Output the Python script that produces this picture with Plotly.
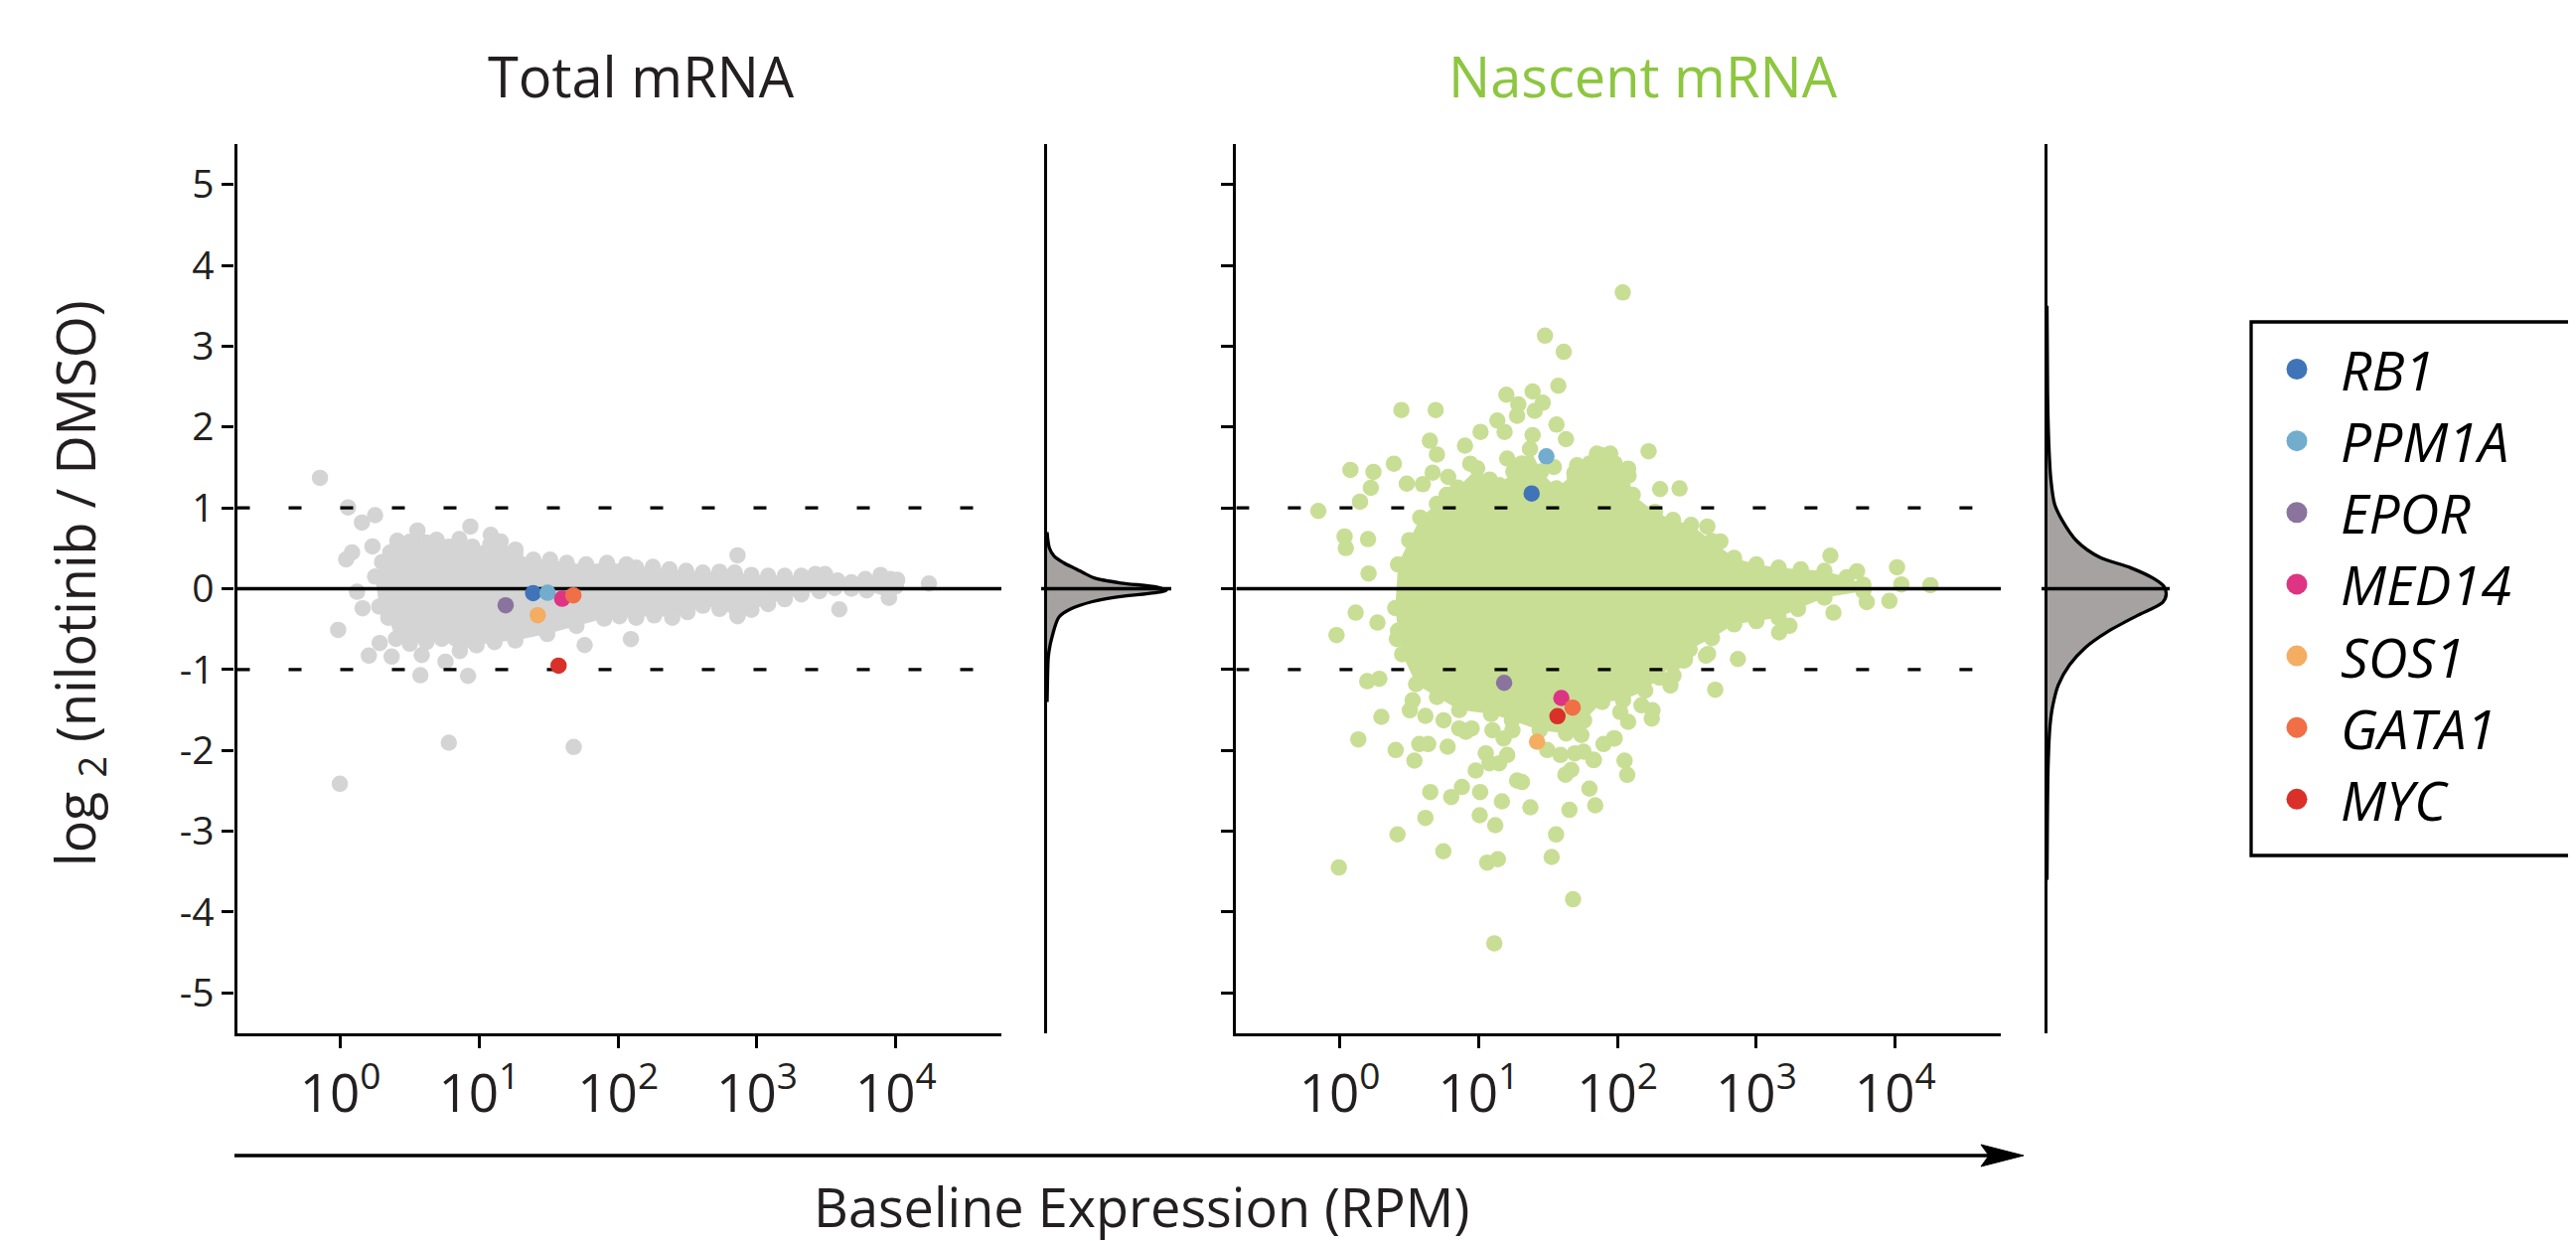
import plotly.graph_objects as go

W, H = 2593, 1249
OFF = 8  # default page margin of the html body
FW, FH = W - OFF, H - OFF

# ---------------- data ----------------
genes = ["RB1", "PPM1A", "EPOR", "MED14", "SOS1", "GATA1", "MYC"]
gene_colors = ["#3f74b8", "#72adce", "#8a749e", "#de3484", "#f5ad62", "#f06f46", "#d93029"]

# highlighted genes: log10(baseline RPM) and log2 fold change
total_gene_log10_rpm = [1.388, 1.492, 1.190, 1.597, 1.421, 1.678, 1.571]
total_gene_lfc = [-0.054, -0.050, -0.205, -0.124, -0.328, -0.082, -0.951]
nascent_gene_log10_rpm = [1.382, 1.488, 1.184, 1.596, 1.421, 1.677, 1.568]
nascent_gene_lfc = [1.178, 1.637, -1.164, -1.352, -1.893, -1.471, -1.577]

# Total mRNA: outline of the dense point cloud (dot centres along the edge)
total_core_log10_rpm = [0.25, 0.30, 0.36, 0.41, 0.50, 0.555, 0.62, 0.70, 0.78, 0.86, 0.95, 1.08, 1.15, 1.26,
                        1.39, 1.51, 1.63, 1.77, 1.92, 2.06, 2.13, 2.25, 2.37, 2.49, 2.61, 2.73, 2.84, 2.96,
                        3.08, 3.20, 3.32, 3.42, 3.49, 3.58, 3.68, 3.78, 3.89, 3.96, 4.01,
                        4.00, 3.95, 3.79, 3.68, 3.56, 3.45, 3.32, 3.20, 3.08, 2.96, 2.86, 2.73, 2.61, 2.50,
                        2.39, 2.26, 2.13, 2.01, 1.90, 1.70, 1.49, 1.26, 1.11, 0.98, 0.86, 0.73, 0.62, 0.50,
                        0.40, 0.345, 0.28]
total_core_lfc = [0.15, 0.33, 0.45, 0.52, 0.58, 0.62, 0.57, 0.56, 0.52, 0.55, 0.52, 0.55, 0.50, 0.44,
                  0.36, 0.36, 0.32, 0.30, 0.32, 0.30, 0.26, 0.27, 0.24, 0.22, 0.20, 0.21, 0.20, 0.17,
                  0.16, 0.16, 0.16, 0.18, 0.18, 0.10, 0.08, 0.12, 0.17, 0.12, 0.11,
                  0.03, -0.11, -0.02, 0.00, 0.01, -0.03, -0.07, -0.13, -0.19, -0.26, -0.34, -0.25, -0.21, -0.29,
                  -0.36, -0.33, -0.36, -0.34, -0.37, -0.46, -0.56, -0.64, -0.66, -0.70, -0.77, -0.62, -0.66, -0.68,
                  -0.62, -0.36, -0.22]
# Total mRNA: isolated points
total_pts_log10_rpm = [-0.147, 0.055, 0.155, 0.250, -0.016, -0.004, 0.781, 1.680, 0.576, 0.919, 0.757, 0.586,
                       0.205, 0.369, 0.283, 1.759, 2.092, 0.120, 0.160, 0.041, 0.084, 0.231, 0.410, 0.555,
                       0.936, 1.083, 1.154, 0.857, 1.261, 0.693, 2.860, 3.593, 4.238, 3.950, 2.860]
total_pts_lfc = [1.371, 1.006, 0.818, 0.910, -0.509, -2.413, -1.905, -1.958, -1.070, -1.078, -0.902, -0.820,
                 -0.828, -0.840, -0.672, -0.697, -0.623, -0.038, -0.242, 0.363, 0.450, 0.523, 0.593, 0.720,
                 0.769, 0.667, 0.585, 0.613, 0.483, 0.605, 0.413, -0.255, 0.065, -0.112, -0.320]

# Nascent mRNA: outline of the dense point cloud
nascent_core_log10_rpm = [0.42, 0.50, 0.58, 0.70, 0.77, 0.85, 0.99, 1.08, 1.15, 1.25, 1.31, 1.37, 1.45, 1.56,
                          1.69, 1.80, 1.89, 1.98, 2.08, 2.11, 2.27, 2.40, 2.53, 2.68, 2.84, 3.00, 3.16, 3.32,
                          3.49, 3.65, 3.77,
                          3.77, 3.49, 3.30, 3.16, 3.00, 2.84, 2.68, 2.52, 2.40, 2.30, 2.20, 2.04, 1.89, 1.76,
                          1.63, 1.44, 1.24, 1.09, 0.86, 0.70, 0.55, 0.45, 0.42, 0.40]
nascent_core_lfc = [0.30, 0.60, 0.88, 1.05, 1.16, 1.25, 1.49, 1.35, 1.28, 1.45, 1.55, 1.73, 1.45, 1.24,
                    1.43, 1.55, 1.65, 1.55, 1.40, 1.16, 0.95, 0.85, 0.79, 0.59, 0.38, 0.30, 0.26, 0.24,
                    0.22, 0.14, 0.05,
                    -0.03, -0.11, -0.25, -0.36, -0.40, -0.44, -0.61, -0.75, -0.93, -1.10, -1.26, -1.38, -1.40, -1.63,
                    -1.79, -1.75, -1.63, -1.55, -1.50, -1.34, -1.18, -0.81, -0.52, -0.24]
# Nascent mRNA: isolated points
nascent_pts_log10_rpm = [2.038, 1.478, 1.613, 1.574, 1.389, 1.200, 1.286, 1.462, 1.404, 1.277, 1.135, 1.187,
                         1.561, 1.629, 1.389, 1.014, 0.902, 0.649, 0.700, 0.444, 0.691, 0.390, 0.077, 0.243,
                         0.224, 0.146, -0.154, 0.669, 0.483, 2.224, 2.447, 2.307, 1.206, 1.542, 1.709, 1.852,
                         1.948, 2.077, 1.692, 0.940, 0.781, 0.598, 2.647, 2.741, 3.533, 4.013, 4.253, 4.044,
                         3.958, 3.795, 3.555, 3.725, 3.164, 3.238, 2.867, 2.652, -0.023, 0.115, 0.208, 0.044,
                         0.035, 0.204,
                         2.704, 2.486, 2.247, 2.070, 2.051, 1.974, 1.900, 1.830, 1.798, 1.840, 1.654, 1.625,
                         1.667, 1.558, 1.526, 1.680, 1.113, 1.139, 1.062, 0.746, 0.416, -0.006, 0.617, 1.008,
                         1.120, 1.373, 1.168, 0.652, 0.803, 0.880, 1.011, 1.277, 1.312, 0.979, 0.538, 0.403,
                         0.134, 0.300, 0.573, 0.637, 0.777, 0.617, 0.505, 0.525, 0.198, 0.285, 0.272, 0.412,
                         1.052, 1.206, 1.078, 1.148, 1.494, 1.590, 1.693, 1.756, 1.827, 0.950, 0.908, 1.100,
                         1.180, 1.244, 0.748, 0.860, 1.740, 1.693, 2.077, 2.020, 1.980, 2.173, 2.252, 2.381,
                         2.403, 2.637, 2.476]
nascent_pts_lfc = [3.665, 3.130, 2.930, 2.510, 2.440, 2.400, 2.280, 2.300, 2.200, 2.140, 2.080, 1.940,
                   2.030, 1.850, 1.900, 1.940, 1.770, 1.830, 1.660, 2.210, 2.210, 1.547, 1.470, 1.445,
                   1.248, 1.076, 0.962, 1.436, 1.300, 1.700, 1.240, 1.232, 1.610, 1.506, 1.527, 1.670,
                   1.670, 1.485, 1.383, 1.547, 1.383, 1.293, 0.769, 0.585, 0.409, 0.265, 0.044, 0.053,
                   -0.152, -0.165, -0.296, 0.216, -0.541, -0.459, -0.869, -0.807, -0.574, -0.296, 0.188, 0.503,
                   0.646, 0.613,
                   -1.250, -0.877, -1.606, -2.302, -2.126, -1.852, -1.921, -2.118, -2.474, -2.679, -2.736, -2.300,
                   -2.240, -3.040, -3.318, -3.842, -4.387, -3.346, -3.388, -3.248, -3.039, -3.449, -2.835, -2.802,
                   -2.925, -2.704, -2.630, -2.515, -2.577, -2.453, -2.515, -2.372, -2.392, -2.249, -2.126, -1.995,
                   -1.864, -1.586, -1.921, -1.921, -1.954, -1.573, -1.504, -1.381, -1.144, -1.114, -0.419, -0.623,
                   -2.036, -2.057, -2.159, -2.159, -1.995, -2.057, -2.036, -2.016, -2.118, -1.729, -1.770, -1.750,
                   -1.852, -1.750, -1.627, -1.729, -1.810, -1.709, -1.647, -1.525, -1.852, -1.442, -1.504, -1.197,
                   -1.074, -0.828, -0.889]

# marginal densities (relative, peak = 1)
total_density_lfc = [0.70, 0.50, 0.40, 0.32, 0.26, 0.20, 0.13, 0.07, 0.02, -0.02, -0.06, -0.10, -0.16,
                     -0.25, -0.35, -0.45, -0.55, -0.70, -0.85, -1.10, -1.40]
total_density = [0.0, 0.02, 0.06, 0.14, 0.22, 0.30, 0.40, 0.62, 0.92, 1.0, 0.85, 0.60, 0.38,
                 0.20, 0.10, 0.07, 0.05, 0.025, 0.01, 0.004, 0.0]
nascent_density_lfc = [3.50, 2.42, 1.80, 1.36, 1.05, 0.85, 0.59, 0.39, 0.26, 0.13, 0.03, -0.07, -0.17,
                       -0.33, -0.53, -0.73, -0.94, -1.19, -1.45, -1.70, -2.16, -2.90, -3.60]
nascent_density = [0.0, 0.005, 0.015, 0.032, 0.063, 0.126, 0.25, 0.44, 0.70, 0.89, 0.98, 1.0, 0.97,
                   0.76, 0.51, 0.32, 0.19, 0.095, 0.048, 0.025, 0.01, 0.003, 0.0]

y_ticks = [5, 4, 3, 2, 1, 0, -1, -2, -3, -4, -5]
y_tick_labels = ["5", "4", "3", "2", "1", "0", "-1", "-2", "-3", "-4", "-5"]
x_ticks = [1, 10, 100, 1000, 10000]
x_tick_labels = ["10<sup>0</sup>", "10<sup>1</sup>", "10<sup>2</sup>", "10<sup>3</sup>", "10<sup>4</sup>"]
ref_levels = [1, -1]

# ---------------- styling / layout ----------------
GRAY = "#d4d4d4"
GREEN = "#c9de95"
TITLE_GREEN = "#8dc63f"
TXT = "#231f20"
FONT = "Open Sans"
DOT = 16.5
LW = 3.3
X_RANGE = [-0.745, 4.76]
Y_RANGE = [-5.5, 5.5]


def px(x):
    return (x - OFF) / FW


def py(y):
    return 1 - (y - OFF) / FH


def to_rpm(vals):
    return [10 ** v for v in vals]


fig = go.Figure()


def add_panel(xa, ya, core_x, core_y, pts_x, pts_y, color, gx, gy):
    fig.add_trace(go.Scatter(x=to_rpm(core_x), y=core_y, mode="lines+markers", fill="toself",
                             fillcolor=color, line=dict(width=0, color=color),
                             marker=dict(size=DOT, color=color), xaxis=xa, yaxis=ya,
                             showlegend=False, hoverinfo="skip"))
    fig.add_trace(go.Scatter(x=to_rpm(pts_x), y=pts_y, mode="markers",
                             marker=dict(size=DOT, color=color), xaxis=xa, yaxis=ya,
                             showlegend=False, hoverinfo="skip"))
    xr = [10 ** X_RANGE[0], 10 ** X_RANGE[1]]
    for lv in ref_levels:
        fig.add_trace(go.Scatter(x=xr, y=[lv, lv], mode="lines",
                                 line=dict(color="black", width=LW, dash="13px,39px"),
                                 xaxis=xa, yaxis=ya, showlegend=False, hoverinfo="skip"))
    fig.add_trace(go.Scatter(x=xr, y=[0, 0], mode="lines", line=dict(color="black", width=LW),
                             xaxis=xa, yaxis=ya, showlegend=False, hoverinfo="skip"))
    for g, c, x, y in zip(genes, gene_colors, gx, gy):
        fig.add_trace(go.Scatter(x=[10 ** x], y=[y], mode="markers", name=g,
                                 marker=dict(size=DOT, color=c), xaxis=xa, yaxis=ya,
                                 showlegend=False))


add_panel("x", "y", total_core_log10_rpm, total_core_lfc, total_pts_log10_rpm, total_pts_lfc, GRAY,
          total_gene_log10_rpm, total_gene_lfc)
add_panel("x3", "y3", nascent_core_log10_rpm, nascent_core_lfc, nascent_pts_log10_rpm, nascent_pts_lfc,
          GREEN, nascent_gene_log10_rpm, nascent_gene_lfc)

for xa, ya, d, yy in [("x2", "y2", total_density, total_density_lfc),
                      ("x4", "y4", nascent_density, nascent_density_lfc)]:
    fig.add_trace(go.Scatter(x=d, y=yy, mode="lines", fill="tozerox", fillcolor="#a6a2a2",
                             line=dict(color="black", width=LW, shape="spline", smoothing=0.8),
                             xaxis=xa, yaxis=ya, showlegend=False, hoverinfo="skip"))

# manual legend
fig.add_trace(go.Scatter(x=[46] * len(genes), y=list(range(len(genes))), mode="markers",
                         marker=dict(size=21, color=gene_colors), xaxis="x5", yaxis="y5",
                         showlegend=False, hoverinfo="skip"))

main_x = dict(type="log", range=X_RANGE, showline=True, linecolor="black", linewidth=LW,
              ticks="outside", ticklen=12, tickwidth=LW, tickcolor="black", showgrid=False,
              zeroline=False, tickvals=x_ticks, ticktext=x_tick_labels,
              tickfont=dict(family=FONT, size=53, color=TXT))
main_y = dict(range=Y_RANGE, showline=True, linecolor="black", linewidth=LW, ticks="outside",
              ticklen=12, tickwidth=LW, tickcolor="black", showgrid=False, zeroline=False,
              tickvals=y_ticks, ticktext=y_tick_labels,
              tickfont=dict(family=FONT, size=39, color=TXT), domain=[py(1040), py(145)])
marg_x = dict(range=[0, 136 / 120], visible=False, showgrid=False, zeroline=False)
marg_y = dict(range=Y_RANGE, showline=True, linecolor="black", linewidth=LW, ticks="",
              showticklabels=False, showgrid=False, zeroline=False, domain=[py(1040), py(145)])

fig.update_layout(
    width=FW, height=FH, margin=dict(l=0, r=0, t=0, b=0),
    paper_bgcolor="white", plot_bgcolor="rgba(0,0,0,0)", showlegend=False,
    xaxis=dict(main_x, domain=[px(238.5), px(1008)], anchor="y"),
    yaxis=dict(main_y, anchor="x"),
    xaxis2=dict(marg_x, domain=[px(1054), px(1190)], anchor="y2"),
    yaxis2=dict(marg_y, anchor="x2"),
    xaxis3=dict(main_x, domain=[px(1244.4), px(2014)], anchor="y3"),
    yaxis3=dict(main_y, anchor="x3", showticklabels=False),
    xaxis4=dict(marg_x, domain=[px(2060.5), px(2196.5)], anchor="y4"),
    yaxis4=dict(marg_y, anchor="x4"),
    xaxis5=dict(range=[0, W - 2266], domain=[px(2266), 1.0], visible=False, anchor="y5"),
    yaxis5=dict(range=[6.786, -0.659], domain=[py(861), py(324)], visible=False, anchor="x5"),
)

shapes = [
    # zero lines across the marginal densities
    dict(type="line", xref="paper", yref="y2", x0=px(1048), x1=px(1179), y0=0, y1=0,
         line=dict(color="black", width=LW)),
    dict(type="line", xref="paper", yref="y4", x0=px(2055), x1=px(2184), y0=0, y1=0,
         line=dict(color="black", width=LW)),
    # legend box
    dict(type="rect", xref="paper", yref="paper", x0=px(2266), x1=px(2610), y0=py(861), y1=py(324),
         line=dict(color="black", width=LW)),
    # bottom arrow
    dict(type="line", xref="paper", yref="paper", x0=px(236), x1=px(2004), y0=py(1163), y1=py(1163),
         line=dict(color="black", width=LW)),
    dict(type="path", xref="paper", yref="paper",
         path=f"M {px(1994)} {py(1152)} L {px(2037)} {py(1163)} L {px(1994)} {py(1174)} "
              f"L {px(2002)} {py(1163)} Z",
         fillcolor="black", line=dict(color="black", width=1)),
]
fig.update_layout(shapes=shapes)

ann = [
    dict(text="Total mRNA", x=px(645), y=py(76), xref="paper", yref="paper", showarrow=False,
         xanchor="center", yanchor="middle", font=dict(family=FONT, size=56, color=TXT)),
    dict(text="Nascent mRNA", x=px(1654), y=py(76), xref="paper", yref="paper", showarrow=False,
         xanchor="center", yanchor="middle", font=dict(family=FONT, size=56, color=TITLE_GREEN)),
    dict(text="log <sub>2</sub> (nilotinib / DMSO)", x=px(78), y=py(587), xref="paper", yref="paper",
         showarrow=False, textangle=-90, xanchor="center", yanchor="middle",
         font=dict(family=FONT, size=54, color=TXT)),
    dict(text="Baseline Expression (RPM)", x=px(1149), y=py(1214), xref="paper", yref="paper",
         showarrow=False, xanchor="center", yanchor="middle", font=dict(family=FONT, size=54, color=TXT)),
]
for i, g in enumerate(genes):
    ann.append(dict(text=g, x=88, y=i, xref="x5", yref="y5", showarrow=False, xanchor="left",
                    yanchor="middle", font=dict(family=FONT, size=55, color="black", style="italic")))
fig.update_layout(annotations=ann)

fig.write_html("out.html")
